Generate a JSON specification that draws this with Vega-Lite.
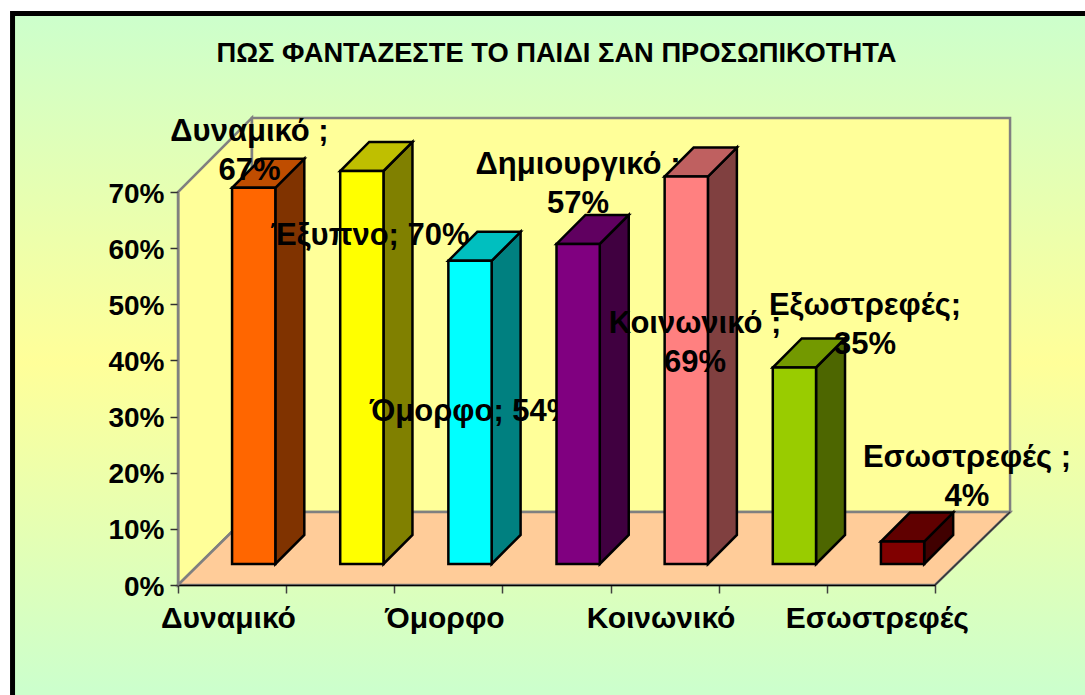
{
"$schema":"https://vega.github.io/schema/vega-lite/v6.json",
"width":757,"height":393,
"autosize":"none",
"padding":{"left":178,"top":192,"right":150,"bottom":110},
"background":"white",
"title":{"text":"ΠΩΣ ΦΑΝΤΑΖΕΣΤΕ ΤΟ ΠΑΙΔΙ ΣΑΝ ΠΡΟΣΩΠΙΚΟΤΗΤΑ","font":"Liberation Sans","fontSize":27.3,"fontWeight":"bold","color":"black","anchor":"middle","offset":-56},
"config":{"view":{"stroke":null},"axis":{"grid":false}},
"datasets":{
"bars":[
{"category":"Δυναμικό","value":0.67},
{"category":"Έξυπνο","value":0.70},
{"category":"Όμορφο","value":0.54},
{"category":"Δημιουργικό","value":0.57},
{"category":"Κοινωνικό","value":0.69},
{"category":"Εξωστρεφές","value":0.35},
{"category":"Εσωστρεφές","value":0.04}
],
"labels":[
{"text":"Δυναμικό ;\n67%","at":0.661,"level":0.807},
{"text":"Έξυπνο; 70%","at":1.775,"level":0.622},
{"text":"Όμορφο; 54%","at":2.719,"level":0.308},
{"text":"Δημιουργικό ;\n57%","at":3.699,"level":0.748},
{"text":"Κοινωνικό ;\n69%","at":4.781,"level":0.465},
{"text":"Εξωστρεφές;\n35%","at":6.353,"level":0.497},
{"text":"Εσωστρεφές ;\n4%","at":7.296,"level":0.226}
],
"leftWall":[
{"at":0,"low":0,"high":0.7},
{"at":0.684,"low":0.13,"high":0.832}
],
"floor":[
{"at":0,"low":0,"high":0},
{"at":0.684,"low":0,"high":0.13},
{"at":7,"low":0,"high":0.13},
{"at":7.694,"low":0.13,"high":0.13}
]
},
"resolve":{"scale":{"color":"independent"}},
"layer":[
{"data":{"values":[{}]},
 "mark":{"type":"rect","stroke":"black","strokeWidth":5,"fill":{"gradient":"linear","x1":0,"y1":0,"x2":0,"y2":1,"stops":[{"offset":0,"color":"#CCFFCC"},{"offset":0.5,"color":"#FFFF99"},{"offset":0.97,"color":"#CCFFCC"},{"offset":1,"color":"#CCFFCC"}]}},
 "encoding":{
  "x":{"datum":-1.53,"type":"quantitative","scale":{"domain":[0,7],"nice":false,"zero":false},
   "axis":{"title":null,"zindex":1,"values":[0,1,2,3,4,5,6,7],"labelExpr":"['Δυναμικό','','Όμορφο','','Κοινωνικό','','Εσωστρεφές',''][datum.value]","labelOffset":50,"labelLimit":400,"labelFont":"Liberation Sans","labelFontSize":30,"labelFontWeight":"bold","labelColor":"black","labelPadding":10,"labelOverlap":false,"labelBound":false,"labelFlush":false,"tickSize":8,"tickWidth":1.5,"tickColor":"#404040","domainColor":"black","domainWidth":1.5}},
  "x2":{"datum":8.53},
  "y":{"datum":1.018,"type":"quantitative","scale":{"domain":[0,0.7],"nice":false,"zero":false},
   "axis":{"title":null,"zindex":1,"values":[0,0.1,0.2,0.3,0.4,0.5,0.6,0.7],"format":".0%","labelOffset":2,"labelFont":"Liberation Sans","labelFontSize":28,"labelFontWeight":"bold","labelColor":"black","labelPadding":6,"labelOverlap":false,"labelBound":false,"labelFlush":false,"tickSize":8,"tickWidth":1.5,"tickColor":"#303030","domainColor":"#808080","domainWidth":2}},
  "y2":{"datum":-0.223}}},
{"data":{"name":"leftWall"},
 "mark":{"type":"area","fill":"#FFFF99","stroke":"#808080","strokeWidth":2.5},
 "encoding":{
  "x":{"field":"at","type":"quantitative","scale":{"domain":[0,7],"nice":false,"zero":false}},
  "y":{"field":"low","type":"quantitative","scale":{"domain":[0,0.7],"nice":false,"zero":false}},
  "y2":{"field":"high"}}},
{"data":{"values":[{}]},
 "mark":{"type":"rect","fill":"#FFFF99","stroke":"#808080","strokeWidth":2.5},
 "encoding":{
  "x":{"datum":0.684,"type":"quantitative","scale":{"domain":[0,7],"nice":false,"zero":false}},
  "x2":{"datum":7.694},
  "y":{"datum":0.13,"type":"quantitative","scale":{"domain":[0,0.7],"nice":false,"zero":false}},
  "y2":{"datum":0.832}}},
{"data":{"name":"floor"},
 "mark":{"type":"area","fill":"#FFCC99","stroke":"#808080","strokeWidth":2.5},
 "encoding":{
  "x":{"field":"at","type":"quantitative","scale":{"domain":[0,7],"nice":false,"zero":false}},
  "y":{"field":"low","type":"quantitative","scale":{"domain":[0,0.7],"nice":false,"zero":false}},
  "y2":{"field":"high"}}},
{"data":{"values":[{}]},
 "mark":{"type":"rule","stroke":"#333333","strokeWidth":1.5},
 "encoding":{
  "x":{"datum":7,"type":"quantitative","scale":{"domain":[0,7],"nice":false,"zero":false}},
  "x2":{"datum":7.694},
  "y":{"datum":0,"type":"quantitative","scale":{"domain":[0,0.7],"nice":false,"zero":false}},
  "y2":{"datum":0.13}}},

{"data":{"name":"bars"},
 "transform":[
  {"window":[{"op":"row_number","as":"n"}]},
  {"filter":"datum.n<=3"},
  {"calculate":"datum.n-0.5+0.4","as":"right"},
  {"calculate":"[0,1]","as":"t"},
  {"flatten":["t"]},
  {"calculate":"datum.right+datum.t*0.268","as":"at"},
  {"calculate":"0.0374+datum.t*0.0517","as":"low"},
  {"calculate":"0.0374+datum.value+datum.t*0.0517","as":"high"}
 ],
 "mark":{"type":"area","stroke":"black","strokeWidth":2.5,"strokeJoin":"miter"},
 "encoding":{
  "x":{"field":"at","type":"quantitative","scale":{"domain":[0,7],"nice":false,"zero":false}},
  "y":{"field":"low","type":"quantitative","scale":{"domain":[0,0.7],"nice":false,"zero":false}},
  "y2":{"field":"high"},
  "detail":{"field":"category"},
  "color":{"field":"category","type":"nominal","legend":null,"scale":{"domain":["Δυναμικό","Έξυπνο","Όμορφο","Δημιουργικό","Κοινωνικό","Εξωστρεφές","Εσωστρεφές"],"range":["#803300","#808000","#008080","#400040","#804040","#4D6600","#400000"]}}}},
{"data":{"name":"bars"},
 "transform":[
  {"window":[{"op":"row_number","as":"n"}]},
  {"filter":"datum.n<=3"},
  {"calculate":"[0,1,2,3]","as":"t"},
  {"flatten":["t"]},
  {"calculate":"datum.n-0.5+[0,0.268,0.4,0.668][datum.t]","as":"at"},
  {"calculate":"0.0374+datum.value+[0,0,0,0.0517][datum.t]","as":"low"},
  {"calculate":"0.0374+datum.value+[0,0.0517,0.0517,0.0517][datum.t]","as":"high"}
 ],
 "mark":{"type":"area","stroke":"black","strokeWidth":2.5,"strokeJoin":"miter"},
 "encoding":{
  "x":{"field":"at","type":"quantitative","scale":{"domain":[0,7],"nice":false,"zero":false}},
  "y":{"field":"low","type":"quantitative","scale":{"domain":[0,0.7],"nice":false,"zero":false}},
  "y2":{"field":"high"},
  "detail":{"field":"category"},
  "color":{"field":"category","type":"nominal","legend":null,"scale":{"domain":["Δυναμικό","Έξυπνο","Όμορφο","Δημιουργικό","Κοινωνικό","Εξωστρεφές","Εσωστρεφές"],"range":["#BF4D00","#BFBF00","#00BFBF","#600060","#BF6060","#739900","#600000"]}}}},
{"data":{"name":"bars"},
 "transform":[
  {"window":[{"op":"row_number","as":"n"}]},
  {"filter":"datum.n<=3"},
  {"calculate":"datum.n-0.5","as":"left"},
  {"calculate":"datum.left+0.4","as":"right"},
  {"calculate":"0.0374","as":"low"},
  {"calculate":"0.0374+datum.value","as":"high"}
 ],
 "mark":{"type":"rect","stroke":"black","strokeWidth":2.5},
 "encoding":{
  "x":{"field":"left","type":"quantitative","scale":{"domain":[0,7],"nice":false,"zero":false}},
  "x2":{"field":"right"},
  "y":{"field":"low","type":"quantitative","scale":{"domain":[0,0.7],"nice":false,"zero":false}},
  "y2":{"field":"high"},
  "color":{"field":"category","type":"nominal","legend":null,"scale":{"domain":["Δυναμικό","Έξυπνο","Όμορφο","Δημιουργικό","Κοινωνικό","Εξωστρεφές","Εσωστρεφές"],"range":["#FF6600","#FFFF00","#00FFFF","#800080","#FF8080","#99CC00","#800000"]}}}},
{"data":{"name":"labels"},
 "transform":[{"window":[{"op":"row_number","as":"n"}]},{"filter":"datum.n<=3"}],
 "mark":{"type":"text","font":"Liberation Sans","fontSize":31,"fontWeight":"bold","color":"black","align":"center","baseline":"middle","lineBreak":"\n","lineHeight":39},
 "encoding":{
  "x":{"field":"at","type":"quantitative","scale":{"domain":[0,7],"nice":false,"zero":false}},
  "y":{"field":"level","type":"quantitative","scale":{"domain":[0,0.7],"nice":false,"zero":false}},
  "text":{"field":"text"}}},

{"data":{"name":"bars"},
 "transform":[
  {"window":[{"op":"row_number","as":"n"}]},
  {"filter":"datum.n==4"},
  {"calculate":"datum.n-0.5+0.4","as":"right"},
  {"calculate":"[0,1]","as":"t"},
  {"flatten":["t"]},
  {"calculate":"datum.right+datum.t*0.268","as":"at"},
  {"calculate":"0.0374+datum.t*0.0517","as":"low"},
  {"calculate":"0.0374+datum.value+datum.t*0.0517","as":"high"}
 ],
 "mark":{"type":"area","stroke":"black","strokeWidth":2.5,"strokeJoin":"miter"},
 "encoding":{
  "x":{"field":"at","type":"quantitative","scale":{"domain":[0,7],"nice":false,"zero":false}},
  "y":{"field":"low","type":"quantitative","scale":{"domain":[0,0.7],"nice":false,"zero":false}},
  "y2":{"field":"high"},
  "detail":{"field":"category"},
  "color":{"field":"category","type":"nominal","legend":null,"scale":{"domain":["Δυναμικό","Έξυπνο","Όμορφο","Δημιουργικό","Κοινωνικό","Εξωστρεφές","Εσωστρεφές"],"range":["#803300","#808000","#008080","#400040","#804040","#4D6600","#400000"]}}}},
{"data":{"name":"bars"},
 "transform":[
  {"window":[{"op":"row_number","as":"n"}]},
  {"filter":"datum.n==4"},
  {"calculate":"[0,1,2,3]","as":"t"},
  {"flatten":["t"]},
  {"calculate":"datum.n-0.5+[0,0.268,0.4,0.668][datum.t]","as":"at"},
  {"calculate":"0.0374+datum.value+[0,0,0,0.0517][datum.t]","as":"low"},
  {"calculate":"0.0374+datum.value+[0,0.0517,0.0517,0.0517][datum.t]","as":"high"}
 ],
 "mark":{"type":"area","stroke":"black","strokeWidth":2.5,"strokeJoin":"miter"},
 "encoding":{
  "x":{"field":"at","type":"quantitative","scale":{"domain":[0,7],"nice":false,"zero":false}},
  "y":{"field":"low","type":"quantitative","scale":{"domain":[0,0.7],"nice":false,"zero":false}},
  "y2":{"field":"high"},
  "detail":{"field":"category"},
  "color":{"field":"category","type":"nominal","legend":null,"scale":{"domain":["Δυναμικό","Έξυπνο","Όμορφο","Δημιουργικό","Κοινωνικό","Εξωστρεφές","Εσωστρεφές"],"range":["#BF4D00","#BFBF00","#00BFBF","#600060","#BF6060","#739900","#600000"]}}}},
{"data":{"name":"bars"},
 "transform":[
  {"window":[{"op":"row_number","as":"n"}]},
  {"filter":"datum.n==4"},
  {"calculate":"datum.n-0.5","as":"left"},
  {"calculate":"datum.left+0.4","as":"right"},
  {"calculate":"0.0374","as":"low"},
  {"calculate":"0.0374+datum.value","as":"high"}
 ],
 "mark":{"type":"rect","stroke":"black","strokeWidth":2.5},
 "encoding":{
  "x":{"field":"left","type":"quantitative","scale":{"domain":[0,7],"nice":false,"zero":false}},
  "x2":{"field":"right"},
  "y":{"field":"low","type":"quantitative","scale":{"domain":[0,0.7],"nice":false,"zero":false}},
  "y2":{"field":"high"},
  "color":{"field":"category","type":"nominal","legend":null,"scale":{"domain":["Δυναμικό","Έξυπνο","Όμορφο","Δημιουργικό","Κοινωνικό","Εξωστρεφές","Εσωστρεφές"],"range":["#FF6600","#FFFF00","#00FFFF","#800080","#FF8080","#99CC00","#800000"]}}}},
{"data":{"name":"labels"},
 "transform":[{"window":[{"op":"row_number","as":"n"}]},{"filter":"datum.n==4"}],
 "mark":{"type":"text","font":"Liberation Sans","fontSize":31,"fontWeight":"bold","color":"black","align":"center","baseline":"middle","lineBreak":"\n","lineHeight":39},
 "encoding":{
  "x":{"field":"at","type":"quantitative","scale":{"domain":[0,7],"nice":false,"zero":false}},
  "y":{"field":"level","type":"quantitative","scale":{"domain":[0,0.7],"nice":false,"zero":false}},
  "text":{"field":"text"}}},

{"data":{"name":"bars"},
 "transform":[
  {"window":[{"op":"row_number","as":"n"}]},
  {"filter":"datum.n>=5"},
  {"calculate":"datum.n-0.5+0.4","as":"right"},
  {"calculate":"[0,1]","as":"t"},
  {"flatten":["t"]},
  {"calculate":"datum.right+datum.t*0.268","as":"at"},
  {"calculate":"0.0374+datum.t*0.0517","as":"low"},
  {"calculate":"0.0374+datum.value+datum.t*0.0517","as":"high"}
 ],
 "mark":{"type":"area","stroke":"black","strokeWidth":2.5,"strokeJoin":"miter"},
 "encoding":{
  "x":{"field":"at","type":"quantitative","scale":{"domain":[0,7],"nice":false,"zero":false}},
  "y":{"field":"low","type":"quantitative","scale":{"domain":[0,0.7],"nice":false,"zero":false}},
  "y2":{"field":"high"},
  "detail":{"field":"category"},
  "color":{"field":"category","type":"nominal","legend":null,"scale":{"domain":["Δυναμικό","Έξυπνο","Όμορφο","Δημιουργικό","Κοινωνικό","Εξωστρεφές","Εσωστρεφές"],"range":["#803300","#808000","#008080","#400040","#804040","#4D6600","#400000"]}}}},
{"data":{"name":"bars"},
 "transform":[
  {"window":[{"op":"row_number","as":"n"}]},
  {"filter":"datum.n>=5"},
  {"calculate":"[0,1,2,3]","as":"t"},
  {"flatten":["t"]},
  {"calculate":"datum.n-0.5+[0,0.268,0.4,0.668][datum.t]","as":"at"},
  {"calculate":"0.0374+datum.value+[0,0,0,0.0517][datum.t]","as":"low"},
  {"calculate":"0.0374+datum.value+[0,0.0517,0.0517,0.0517][datum.t]","as":"high"}
 ],
 "mark":{"type":"area","stroke":"black","strokeWidth":2.5,"strokeJoin":"miter"},
 "encoding":{
  "x":{"field":"at","type":"quantitative","scale":{"domain":[0,7],"nice":false,"zero":false}},
  "y":{"field":"low","type":"quantitative","scale":{"domain":[0,0.7],"nice":false,"zero":false}},
  "y2":{"field":"high"},
  "detail":{"field":"category"},
  "color":{"field":"category","type":"nominal","legend":null,"scale":{"domain":["Δυναμικό","Έξυπνο","Όμορφο","Δημιουργικό","Κοινωνικό","Εξωστρεφές","Εσωστρεφές"],"range":["#BF4D00","#BFBF00","#00BFBF","#600060","#BF6060","#739900","#600000"]}}}},
{"data":{"name":"bars"},
 "transform":[
  {"window":[{"op":"row_number","as":"n"}]},
  {"filter":"datum.n>=5"},
  {"calculate":"datum.n-0.5","as":"left"},
  {"calculate":"datum.left+0.4","as":"right"},
  {"calculate":"0.0374","as":"low"},
  {"calculate":"0.0374+datum.value","as":"high"}
 ],
 "mark":{"type":"rect","stroke":"black","strokeWidth":2.5},
 "encoding":{
  "x":{"field":"left","type":"quantitative","scale":{"domain":[0,7],"nice":false,"zero":false}},
  "x2":{"field":"right"},
  "y":{"field":"low","type":"quantitative","scale":{"domain":[0,0.7],"nice":false,"zero":false}},
  "y2":{"field":"high"},
  "color":{"field":"category","type":"nominal","legend":null,"scale":{"domain":["Δυναμικό","Έξυπνο","Όμορφο","Δημιουργικό","Κοινωνικό","Εξωστρεφές","Εσωστρεφές"],"range":["#FF6600","#FFFF00","#00FFFF","#800080","#FF8080","#99CC00","#800000"]}}}},
{"data":{"name":"labels"},
 "transform":[{"window":[{"op":"row_number","as":"n"}]},{"filter":"datum.n>=5"}],
 "mark":{"type":"text","font":"Liberation Sans","fontSize":31,"fontWeight":"bold","color":"black","align":"center","baseline":"middle","lineBreak":"\n","lineHeight":39},
 "encoding":{
  "x":{"field":"at","type":"quantitative","scale":{"domain":[0,7],"nice":false,"zero":false}},
  "y":{"field":"level","type":"quantitative","scale":{"domain":[0,0.7],"nice":false,"zero":false}},
  "text":{"field":"text"}}}
]
}
